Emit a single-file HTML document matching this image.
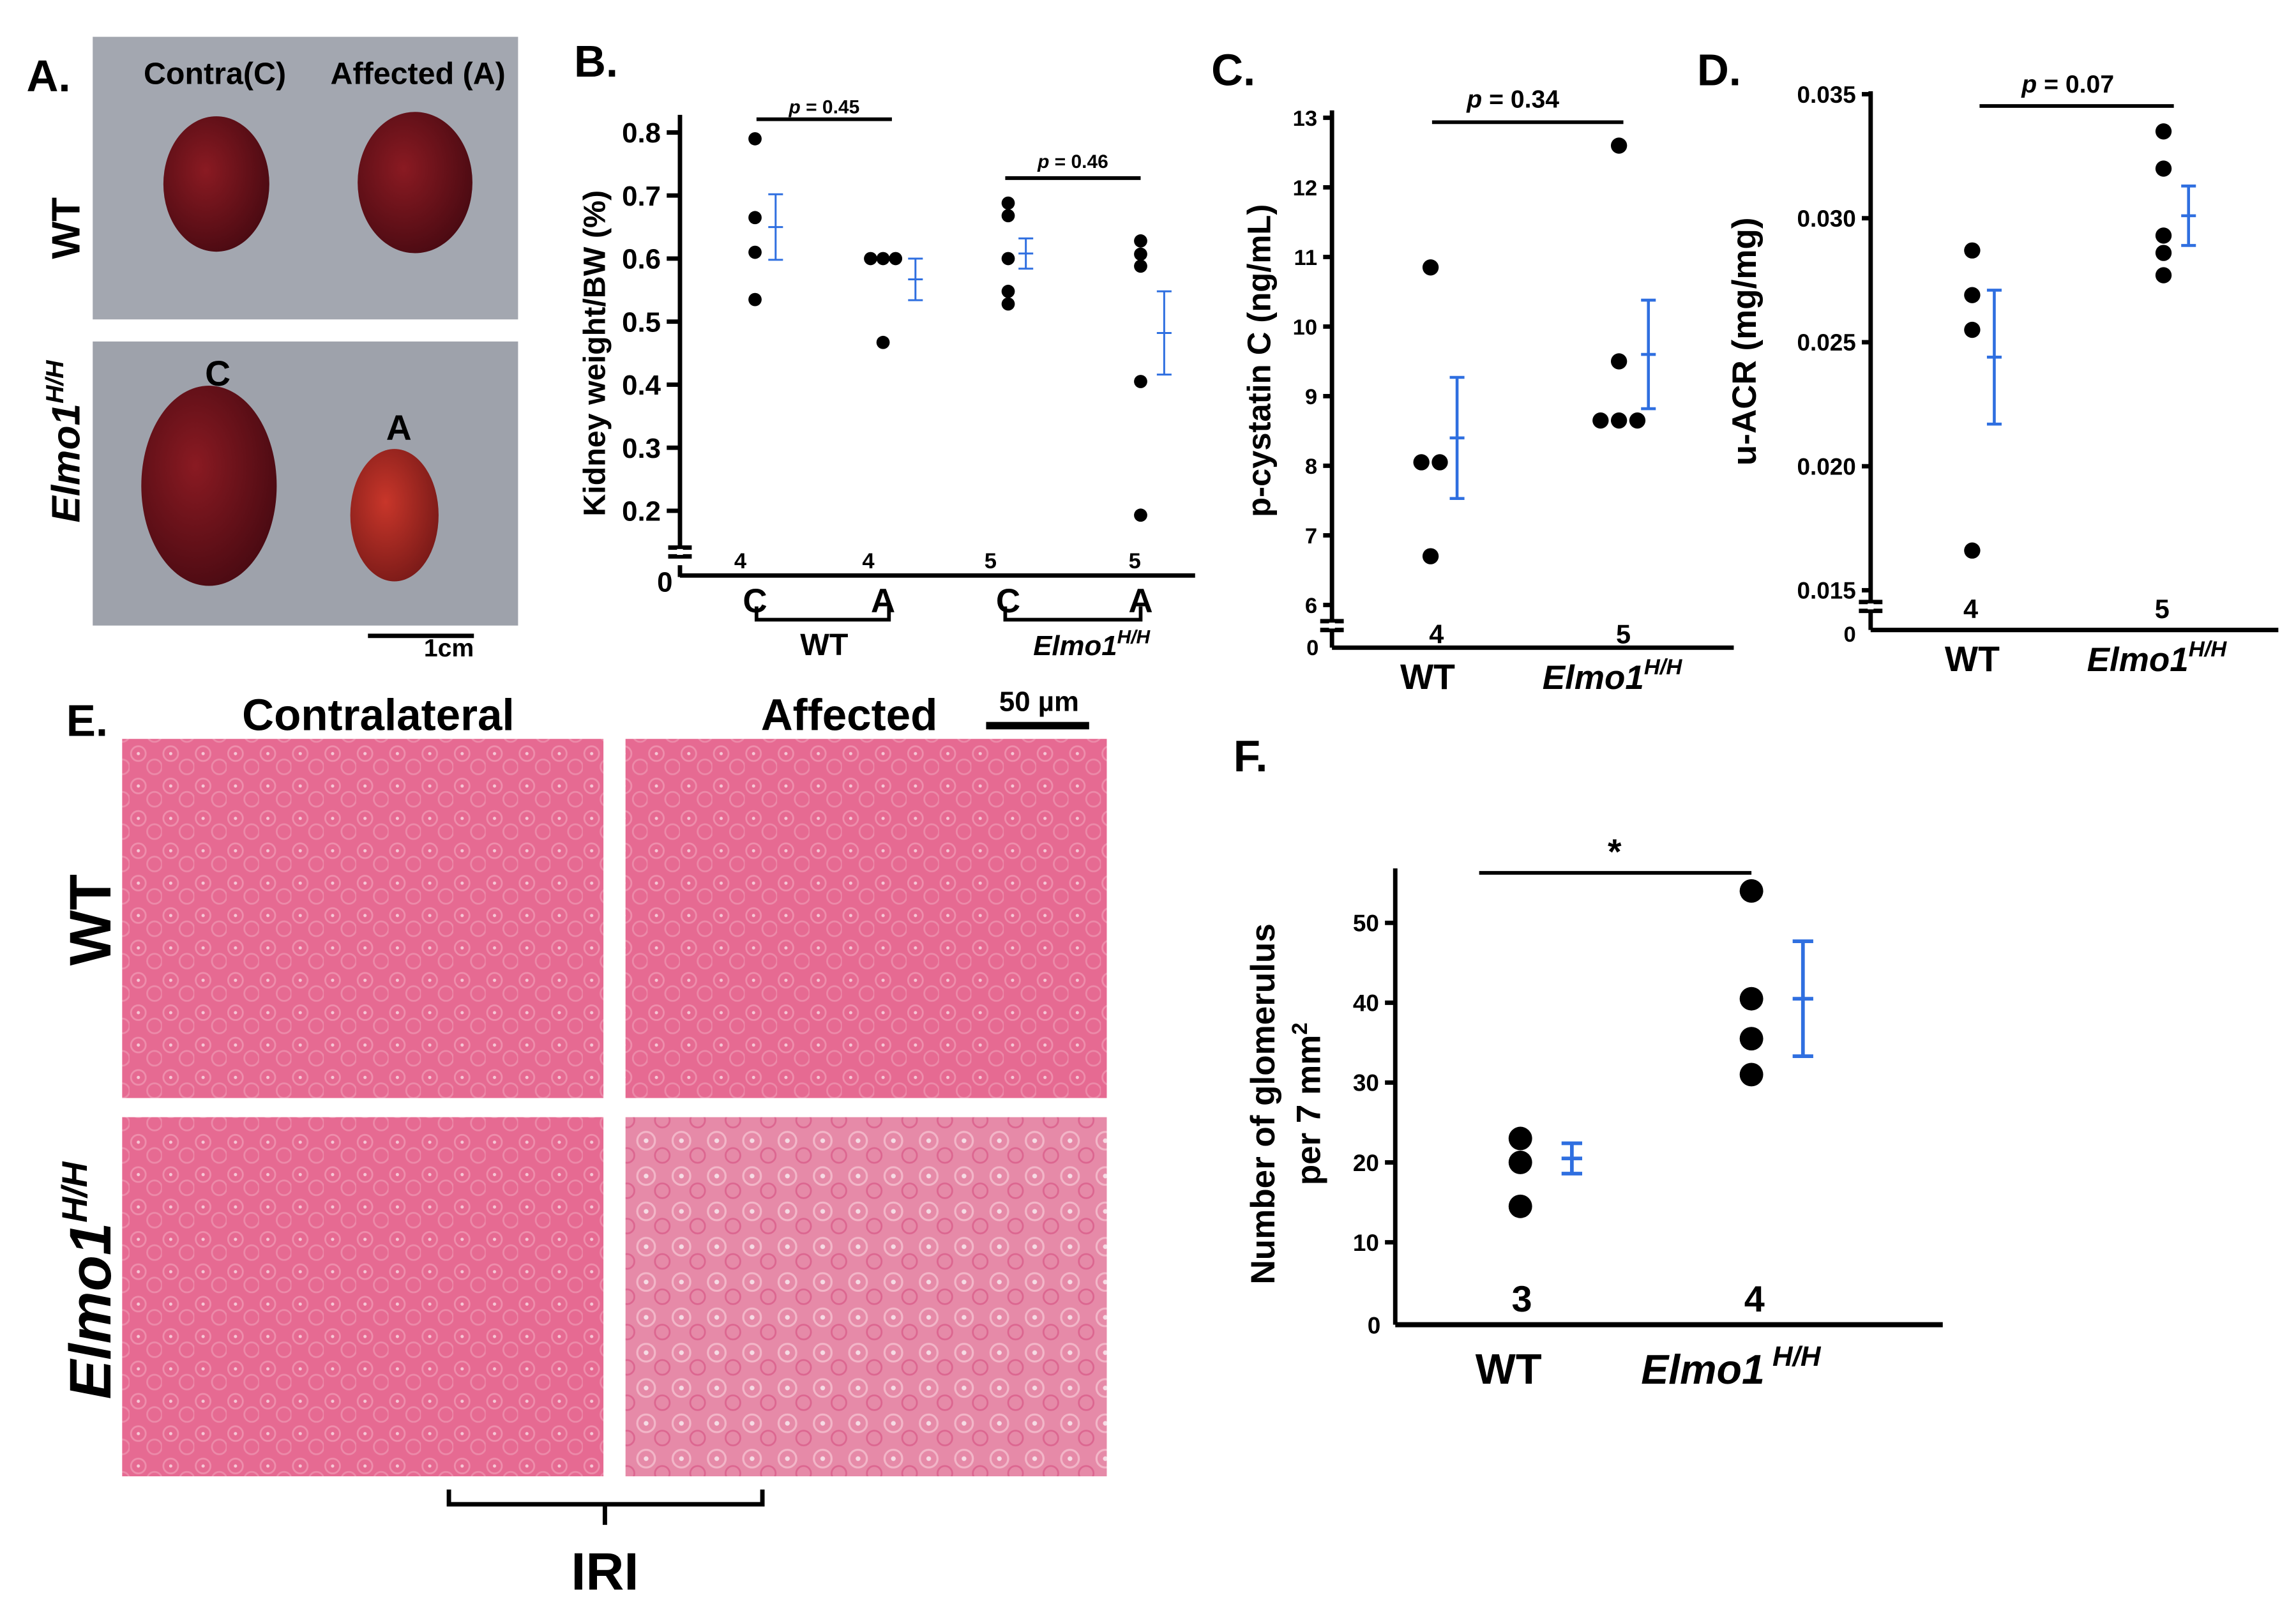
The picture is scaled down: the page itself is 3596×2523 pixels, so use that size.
<!DOCTYPE html>
<html><head><meta charset="utf-8">
<style>
html,body{margin:0;padding:0;background:#fff;}
svg{display:block;font-family:"Liberation Sans",Arial,sans-serif;}
</style></head>
<body>
<svg id="fig" width="3596" height="2523" viewBox="0 0 1560 1094.5" xmlns="http://www.w3.org/2000/svg">
<defs>
<pattern id="tissue" width="22" height="22" patternUnits="userSpaceOnUse">
<rect width="22" height="22" fill="#e66a92"/>
<circle cx="6" cy="6" r="5" fill="none" stroke="#ee8eac" stroke-width="1.2"/>
<circle cx="17" cy="15" r="5" fill="none" stroke="#ec8aa9" stroke-width="1.2"/>
<circle cx="6" cy="6" r="1.1" fill="#f6c8d6"/>
</pattern>
<pattern id="tissue2" width="24" height="24" patternUnits="userSpaceOnUse">
<rect width="24" height="24" fill="#e68aa8"/>
<circle cx="7" cy="7" r="6" fill="none" stroke="#f2b6c8" stroke-width="1.4"/>
<circle cx="18" cy="17" r="5" fill="none" stroke="#dc6690" stroke-width="1.2"/>
<circle cx="7" cy="7" r="1.6" fill="#f6dce5"/>
</pattern>
<radialGradient id="kid" cx="40%" cy="40%" r="65%">
<stop offset="0" stop-color="#8a1a22"/><stop offset="1" stop-color="#4a0a12"/></radialGradient>
<radialGradient id="kid2" cx="40%" cy="40%" r="65%">
<stop offset="0" stop-color="#c8362a"/><stop offset="1" stop-color="#7a1a18"/></radialGradient>
</defs>

<!-- Panel A -->
<g>
<text x="18" y="62" font-size="30" font-weight="bold">A.</text>
<rect x="63" y="25" width="289" height="192" fill="#a3a7b0"/>
<rect x="63" y="232" width="289" height="193" fill="#9ea2ab"/>
<text x="146" y="57" font-size="21" font-weight="bold" text-anchor="middle">Contra(C)</text>
<text x="284" y="57" font-size="21" font-weight="bold" text-anchor="middle">Affected (A)</text>
<ellipse cx="147" cy="125" rx="36" ry="46" fill="url(#kid)"/>
<ellipse cx="282" cy="124" rx="39" ry="48" fill="url(#kid)"/>
<ellipse cx="142" cy="330" rx="46" ry="68" fill="url(#kid)"/>
<ellipse cx="268" cy="350" rx="30" ry="45" fill="url(#kid2)"/>
<text x="148" y="262" font-size="24" font-weight="bold" text-anchor="middle">C</text>
<text x="271" y="299" font-size="24" font-weight="bold" text-anchor="middle">A</text>
<text transform="translate(54,155) rotate(-90)" font-size="27" font-weight="bold" text-anchor="middle">WT</text>
<text transform="translate(54,300) rotate(-90)" font-size="27" font-weight="bold" font-style="italic" text-anchor="middle">Elmo1<tspan font-size="17" dy="-11">H/H</tspan></text>
<line x1="250" y1="432" x2="322" y2="432" stroke="#000" stroke-width="3"/>
<text x="305" y="446" font-size="17" font-weight="bold" text-anchor="middle">1cm</text>
</g>

<g id="charts"></g>

<!-- Panel E -->
<g>
<text x="45" y="500" font-size="30" font-weight="bold">E.</text>
<text x="257" y="496" font-size="30" font-weight="bold" text-anchor="middle">Contralateral</text>
<text x="577" y="496" font-size="30" font-weight="bold" text-anchor="middle">Affected</text>
<text x="706" y="483" font-size="19" font-weight="bold" text-anchor="middle">50 µm</text>
<line x1="670" y1="493" x2="740" y2="493" stroke="#000" stroke-width="5"/>
<rect x="83" y="502" width="327" height="244" fill="url(#tissue)"/>
<rect x="425" y="502" width="327" height="244" fill="url(#tissue)"/>
<rect x="83" y="759" width="327" height="244" fill="url(#tissue)"/>
<rect x="425" y="759" width="327" height="244" fill="url(#tissue2)"/>
<text transform="translate(75,625) rotate(-90)" font-size="40" font-weight="bold" text-anchor="middle">WT</text>
<text transform="translate(75,870) rotate(-90)" font-size="40" font-weight="bold" font-style="italic" text-anchor="middle">Elmo1<tspan font-size="24" dy="-16">H/H</tspan></text>
<path d="M305,1012 V1022 H518 V1012 M411,1022 V1036" fill="none" stroke="#000" stroke-width="3"/>
<text x="411" y="1080" font-size="36" font-weight="bold" text-anchor="middle">IRI</text>
</g>

<script>
// ---- Panel B data ----
const bCategories = ["C","A","C","A"];
const bValues = [[0.79,0.665,0.61,0.535],[0.60,0.60,0.60,0.467],[0.688,0.668,0.60,0.548,0.528],[0.628,0.607,0.588,0.405,0.193]];
const bMeans = [0.65,0.567,0.608,0.482];
const bErr = [0.052,0.033,0.024,0.066];
const bTicks = [0.2,0.3,0.4,0.5,0.6,0.7,0.8];
const bN = ["4","4","5","5"];
// ---- Panel C data ----
const cCategories = ["WT","Elmo1"];
const cValues = [[10.85,8.05,8.05,6.7],[12.6,9.5,8.65,8.65,8.65]];
const cMeans = [8.4,9.6];
const cErr = [0.87,0.78];
const cTicks = [6,7,8,9,10,11,12,13];
const cN = ["4","5"];
// ---- Panel D data ----
const dCategories = ["WT","Elmo1"];
const dValues = [[0.0287,0.0269,0.0255,0.0166],[0.0335,0.0320,0.0293,0.0286,0.0277]];
const dMeans = [0.0244,0.0301];
const dErr = [0.0027,0.0012];
const dTicks = [0.015,0.020,0.025,0.030,0.035];
const dTickLabels = ["0.015","0.020","0.025","0.030","0.035"];
const dN = ["4","5"];
// ---- Panel F data ----
const fCategories = ["WT","Elmo1"];
const fValues = [[23,20,14.5],[54,40.5,35.5,31]];
const fMeans = [20.5,40.5];
const fErr = [1.9,7.2];
const fTicks = [10,20,30,40,50];
const fN = ["3","4"];

const NS="http://www.w3.org/2000/svg";
const root=document.getElementById('charts');
function mk(tag,attrs,parent,text){const e=document.createElementNS(NS,tag);for(const k in attrs)e.setAttribute(k,attrs[k]);if(text!==undefined)e.textContent=text;(parent||root).appendChild(e);return e;}
function lin(d0,d1,r0,r1){return v=>r0+(v-d0)*(r1-r0)/(d1-d0);}

function dots(g,x,vals,y,r,spread){
  const seen={};
  vals.forEach(v=>{const k=v.toFixed(4);seen[k]=(seen[k]||0)+1;});
  const idx={};
  vals.forEach(v=>{const k=v.toFixed(4);const n=seen[k];idx[k]=(idx[k]||0);
    const off=(idx[k]-(n-1)/2)*spread;idx[k]++;
    const c=mk('circle',{cx:x+off,cy:y(v),r:r,fill:'#000'},g);
    
    });
}
function errbar(g,x,m,e,y,hw,sw){
  const p=mk('path',{d:`M${x},${y(m+e)}V${y(m-e)}M${x-hw},${y(m+e)}H${x+hw}M${x-hw},${y(m-e)}H${x+hw}M${x-hw},${y(m)}H${x+hw}`,stroke:'#2f6fe0','stroke-width':sw,fill:'none'},g);
  
  
}
function yaxis(g,ax,ytop,ybot,y,ticks,labels,fs,tl){
  mk('line',{x1:ax,y1:ytop,x2:ax,y2:ybot,stroke:'#000','stroke-width':3},g);
  ticks.forEach((t,i)=>{mk('line',{x1:ax-tl,y1:y(t),x2:ax,y2:y(t),stroke:'#000','stroke-width':3},g);
    const tx=mk('text',{x:ax-tl-4,y:y(t)+fs*0.36,'font-size':fs,'font-weight':'bold','text-anchor':'end'},g,labels[i]);
    
    });
}
function brk(g,ax,yb,w){mk('path',{d:`M${ax-w},${yb-12}H${ax+w}M${ax-w},${yb-6}H${ax+w}`,stroke:'#000','stroke-width':3,fill:'none'},g);
  mk('rect',{x:ax-2,y:yb-11,width:4,height:4,fill:'#fff'},g);}

// Panel B
(function(){
 const g=mk('g',{});
 mk('text',{x:390,y:52,'font-size':30,'font-weight':'bold'},g,'B.');
 const y=lin(0.2,0.8,347,90);const ax=462;const xs=[513,600,685,775];
 yaxis(g,ax,78,378,y,bTicks,bTicks.map(t=>t.toFixed(1)),19,9);
 mk('line',{x1:ax,y1:384,x2:ax,y2:392,stroke:'#000','stroke-width':3},g);
 brk(g,ax,384,8);
 mk('text',{x:457,y:402,'font-size':19,'font-weight':'bold','text-anchor':'end'},g,'0');
 mk('line',{x1:ax,y1:391,x2:812,y2:391,stroke:'#000','stroke-width':3},g);
 mk('text',{transform:'translate(411,240) rotate(-90)','font-size':21,'font-weight':'bold','text-anchor':'middle'},g,'Kidney weight/BW (%)');
 const eoff=[14,22,12,16];
 bCategories.forEach((c,i)=>{
  dots(g,xs[i],bValues[i],y,4.5,8.5);
  errbar(g,xs[i]+eoff[i],bMeans[i],bErr[i],y,5,1.3);
  mk('text',{x:xs[i]+(i==3?-4:(i==2?-12:-10)),y:386,'font-size':15,'font-weight':'bold','text-anchor':'middle'},g,bN[i]);
  mk('text',{x:xs[i],y:416,'font-size':23,'font-weight':'bold','text-anchor':'middle'},g,c);
 });
 mk('path',{d:'M514,412V421H604V412M683,412V421H775V412',stroke:'#000','stroke-width':2.5,fill:'none'},g);
 mk('text',{x:560,y:445,'font-size':21,'font-weight':'bold','text-anchor':'middle'},g,'WT');
 const t=mk('text',{x:702,y:445,'font-size':19,'font-weight':'bold','font-style':'italic'},g,'Elmo1');
 mk('tspan',{'font-size':13,dy:-8},t,'H/H');
 mk('line',{x1:514,y1:81,x2:606,y2:81,stroke:'#000','stroke-width':2.5},g);
 const p1=mk('text',{x:560,y:77,'font-size':13,'font-weight':'bold','text-anchor':'middle'},g);mk('tspan',{'font-style':'italic'},p1,'p');mk('tspan',{},p1,' = 0.45');
 mk('line',{x1:683,y1:121,x2:775,y2:121,stroke:'#000','stroke-width':2.5},g);
 const p2=mk('text',{x:729,y:114,'font-size':13,'font-weight':'bold','text-anchor':'middle'},g);mk('tspan',{'font-style':'italic'},p2,'p');mk('tspan',{},p2,' = 0.46');
})();

// Panel C
(function(){
 const g=mk('g',{});
 mk('text',{x:823,y:58,'font-size':30,'font-weight':'bold'},g,'C.');
 const y=lin(6,13,411,80);const ax=905;const xs=[972,1100];
 yaxis(g,ax,75,426,y,cTicks,cTicks.map(String),15,6);
 brk(g,ax,434,8);
 mk('line',{x1:ax,y1:428,x2:ax,y2:440,stroke:'#000','stroke-width':3},g);
 mk('text',{x:896,y:445,'font-size':15,'font-weight':'bold','text-anchor':'end'},g,'0');
 mk('line',{x1:ax,y1:440,x2:1178,y2:440,stroke:'#000','stroke-width':3},g);
 mk('text',{transform:'translate(863,245) rotate(-90)','font-size':22,'font-weight':'bold','text-anchor':'middle'},g,'p-cystatin C (ng/mL)');
 cCategories.forEach((c,i)=>{
  dots(g,xs[i],cValues[i],y,5.5,12.5);
  errbar(g,xs[i]+(i?20:18),cMeans[i],cErr[i],y,5,2);
  mk('text',{x:xs[i]+(i?3:4),y:437,'font-size':18,'font-weight':'bold','text-anchor':'middle'},g,cN[i]);
 });
 mk('text',{x:970,y:468,'font-size':24,'font-weight':'bold','text-anchor':'middle'},g,'WT');
 const t=mk('text',{x:1048,y:468,'font-size':23,'font-weight':'bold','font-style':'italic'},g,'Elmo1');
 mk('tspan',{'font-size':15,dy:-10},t,'H/H');
 mk('line',{x1:973,y1:83,x2:1103,y2:83,stroke:'#000','stroke-width':2.5},g);
 const p=mk('text',{x:1028,y:73,'font-size':17,'font-weight':'bold','text-anchor':'middle'},g);mk('tspan',{'font-style':'italic'},p,'p');mk('tspan',{},p,' = 0.34');
})();

// Panel D
(function(){
 const g=mk('g',{});
 mk('text',{x:1153,y:58,'font-size':30,'font-weight':'bold'},g,'D.');
 const y=lin(0.015,0.035,401,64);const ax=1271;const xs=[1340,1470];
 yaxis(g,ax,62,414,y,dTicks,dTickLabels,16,6);
 brk(g,ax,421,8);
 mk('line',{x1:ax,y1:416,x2:ax,y2:428,stroke:'#000','stroke-width':3},g);
 mk('text',{x:1261,y:436,'font-size':15,'font-weight':'bold','text-anchor':'end'},g,'0');
 mk('line',{x1:ax,y1:428,x2:1548,y2:428,stroke:'#000','stroke-width':3},g);
 mk('text',{transform:'translate(1193,232) rotate(-90)','font-size':23,'font-weight':'bold','text-anchor':'middle'},g,'u-ACR (mg/mg)');
 dCategories.forEach((c,i)=>{
  dots(g,xs[i],dValues[i],y,5.5,12);
  errbar(g,xs[i]+(i?17:15),dMeans[i],dErr[i],y,5,2);
  mk('text',{x:xs[i]-1,y:420,'font-size':18,'font-weight':'bold','text-anchor':'middle'},g,dN[i]);
 });
 mk('text',{x:1340,y:456,'font-size':24,'font-weight':'bold','text-anchor':'middle'},g,'WT');
 const t=mk('text',{x:1418,y:456,'font-size':23,'font-weight':'bold','font-style':'italic'},g,'Elmo1');
 mk('tspan',{'font-size':15,dy:-10},t,'H/H');
 mk('line',{x1:1345,y1:72,x2:1477,y2:72,stroke:'#000','stroke-width':2.5},g);
 const p=mk('text',{x:1405,y:63,'font-size':17,'font-weight':'bold','text-anchor':'middle'},g);mk('tspan',{'font-style':'italic'},p,'p');mk('tspan',{},p,' = 0.07');
})();

// Panel F
(function(){
 const g=mk('g',{});
 mk('text',{x:838,y:524,'font-size':30,'font-weight':'bold'},g,'F.');
 const y=lin(10,50,844,627);const ax=948;const xs=[1033,1190];
 yaxis(g,ax,590,900,y,fTicks,fTicks.map(String),16,7);
 mk('text',{x:938,y:906,'font-size':16,'font-weight':'bold','text-anchor':'end'},g,'0');
 mk('line',{x1:ax,y1:900,x2:1320,y2:900,stroke:'#000','stroke-width':3.5},g);
 mk('text',{transform:'translate(866,750) rotate(-90)','font-size':23,'font-weight':'bold','text-anchor':'middle'},g,'Number of glomerulus');
 const t0=mk('text',{transform:'translate(897,750) rotate(-90)','font-size':23,'font-weight':'bold','text-anchor':'middle'},g,'per 7 mm');
 mk('tspan',{'font-size':15,dy:-9},t0,'2');
 fCategories.forEach((c,i)=>{
  dots(g,xs[i],fValues[i],y,8,16);
  errbar(g,xs[i]+35,fMeans[i],fErr[i],y,7,2.5);
  mk('text',{x:xs[i]+(i?2:1),y:891,'font-size':25,'font-weight':'bold','text-anchor':'middle'},g,fN[i]);
 });
 mk('text',{x:1025,y:940,'font-size':29,'font-weight':'bold','text-anchor':'middle'},g,'WT');
 const t=mk('text',{x:1115,y:940,'font-size':28,'font-weight':'bold','font-style':'italic'},g,'Elmo1');
 mk('tspan',{'font-size':19,dy:-12},t,' H/H');
 mk('line',{x1:1005,y1:593,x2:1190,y2:593,stroke:'#000','stroke-width':2.5},g);
 mk('text',{x:1097,y:587,'font-size':24,'font-weight':'bold','text-anchor':'middle'},g,'*');
})();
</script>
</svg>
</body></html>
